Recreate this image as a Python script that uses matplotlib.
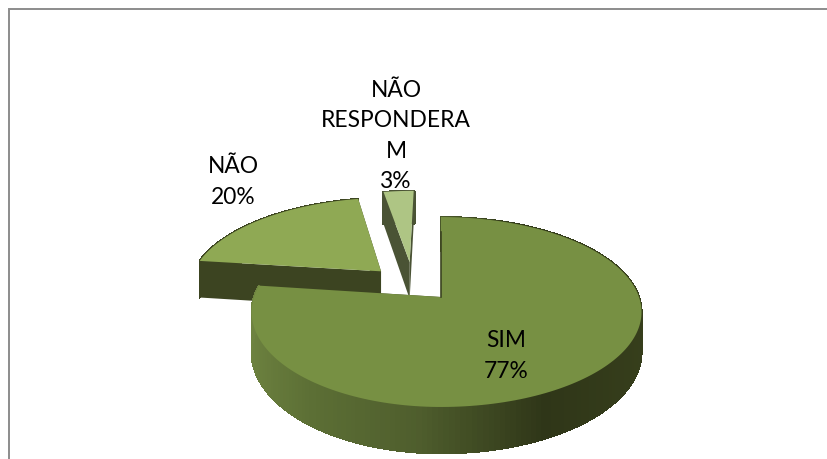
import numpy as np
from matplotlib import pyplot as plt
from matplotlib.collections import PolyCollection
from matplotlib.colors import to_rgb

categories = ['SIM', 'NÃO', 'NÃO\nRESPONDERA\nM']
percent = [77, 20, 3]
top_colors = ['#779043', '#8fa954', '#aec584']
wall_colors = [None, '#3c4421', '#4a5335']
explode = [(0.0, 0.0), (-0.32, 0.29), (-0.17, 0.40)]
left_scale = [187, 196, 196]
label_pos = [(506, 356), (233, 182), (396, 136)]

apex_x, apex_y = 441, 297
scale_x, scale_y = 198, 92.6
persp = 0.158
depth = 39


def project(ux, uy, left):
    den = 1 + persp * uy
    sx = np.where(np.asarray(ux) < 0, left, scale_x)
    return apex_x + sx * ux / den, apex_y - scale_y * uy / den, depth / den


def sim_wall_color(ux):
    stops = [-1.0, -0.6, -0.1, 0.45, 1.0]
    colors = np.array([to_rgb(c) for c in ['#6e8340', '#5c6f35', '#4f5e2d', '#2f3618', '#373f1c']])
    return [np.interp(ux, stops, colors[:, i]) for i in range(3)]


def draw_slice(ax, start, stop, offset, left, top_color, wall_color):
    ts = np.radians(np.linspace(start, stop, 200))
    ux = np.sin(ts) + offset[0]
    uy = np.cos(ts) + offset[1]
    x, y, d = project(ux, uy, left)
    ax0, ay0, ad0 = project(offset[0], offset[1], left)

    quads = []
    colors = []
    for i in range(len(ts) - 1):
        quads.append([(x[i], y[i]), (x[i + 1], y[i + 1]),
                      (x[i + 1], y[i + 1] + d[i + 1]), (x[i], y[i] + d[i])])
        colors.append(wall_color if wall_color else sim_wall_color(np.sin(ts[i])))
    ax.add_collection(PolyCollection(quads, facecolors=colors, edgecolors=colors,
                                     linewidths=0.8, antialiaseds=False))

    # the two straight cut faces
    for j in (0, -1):
        ax.fill([x[j], ax0, ax0, x[j]], [y[j], ay0, ay0 + ad0, y[j] + d[j]],
                color=wall_color or '#3c4421', lw=0)

    ax.fill(np.r_[ax0, x], np.r_[ay0, y], color=top_color, lw=0)


fig = plt.figure(figsize=(8.28, 4.59), dpi=100)
ax = fig.add_axes([0, 0, 1, 1])
ax.set_xlim(0, 828)
ax.set_ylim(459, 0)
ax.axis('off')

# chart frame, only the top and left edges are in the picture
ax.plot([9, 9, 828], [459, 9, 9], color='#8c8c8c', lw=1.4, solid_joinstyle='miter')

angles = np.cumsum([0] + percent) / sum(percent) * 360
for i in (1, 2, 0):
    draw_slice(ax, angles[i], angles[i + 1], explode[i], left_scale[i], top_colors[i], wall_colors[i])

# dark sliver on the inner cut of the big slice
sx, sy, _ = project(0, 1, left_scale[0])
ax.plot([sx, sx], [sy + 15, apex_y], color='#3c4421', lw=1.2)

for name, value, (lx, ly) in zip(categories, percent, label_pos):
    ax.text(lx, ly, '{}\n{}%'.format(name, value), ha='center', va='center', family='Lato',
            fontsize=16.4, linespacing=1.56, color='black')

fig.savefig('out.png', dpi=100)
